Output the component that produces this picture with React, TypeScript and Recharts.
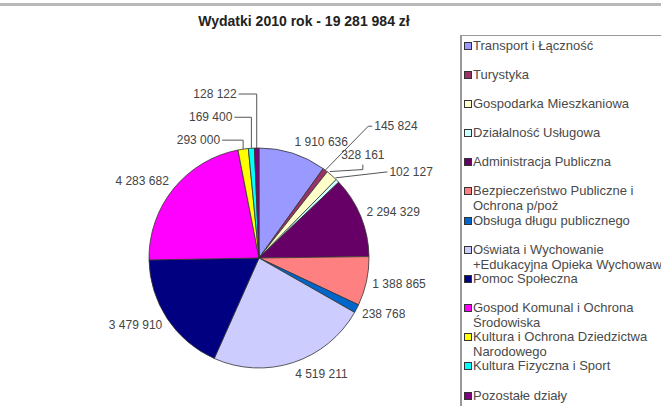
import React from 'react';
import { PieChart, Pie, Cell } from 'recharts';

const NAMES = [
  'Transport i Łączność',
  'Turystyka',
  'Gospodarka Mieszkaniowa',
  'Działalność Usługowa',
  'Administracja Publiczna',
  'Bezpieczeństwo Publiczne i\nOchrona p/poż',
  'Obsługa długu publicznego',
  'Oświata i Wychowanie\n+Edukacyjna Opieka Wychowawcza',
  'Pomoc Społeczna',
  'Gospod Komunal i Ochrona\nŚrodowiska',
  'Kultura i Ochrona Dziedzictwa\nNarodowego',
  'Kultura Fizyczna i Sport',
  'Pozostałe działy',
];

const VALUES = [
  1910636, 145824, 328161, 102127, 2294329, 1388865, 238768,
  4519211, 3479910, 4283682, 293000, 169400, 128122,
];

const COLORS = [
  '#9999FF', '#993366', '#FFFFCC', '#CCFFFF', '#660066', '#FF8080', '#0066CC',
  '#CCCCFF', '#000080', '#FF00FF', '#FFFF00', '#00FFFF', '#800080',
];

const TITLE = 'Wydatki 2010 rok - 19 281 984 zł';

const data = NAMES.map((name, i) => ({ name, value: VALUES[i], color: COLORS[i] }));

const FONT = '"Liberation Sans", Arial, sans-serif';
const RAD = Math.PI / 180;

const fmt = (v: number) => String(v).replace(/\B(?=(\d{3})+(?!\d))/g, ' ');

// leader lines for the thin slices, relative to the point on the rim
const LEADERS: Record<number, { pts: number[][]; tx: number; ty: number; anchor: 'start' | 'end' | 'middle' }> = {
  1: { pts: [[0, 0], [43, -44], [47, -44]], tx: 49, ty: -40, anchor: 'start' },
  2: { pts: [[-2, -4], [31, -6], [31, -11]], tx: 31, ty: -17, anchor: 'middle' },
  3: { pts: [[-2, -3], [50, -9]], tx: 52, ty: -5, anchor: 'start' },
  10: { pts: [[0, 0], [0, -9], [-21, -9]], tx: -23, ty: -5, anchor: 'end' },
  11: { pts: [[0, 0], [0, -31], [-17, -31]], tx: -19, ty: -27, anchor: 'end' },
  12: { pts: [[0, 0], [0, -54], [-18, -54]], tx: -20, ty: -50, anchor: 'end' },
};

const renderLabel = (props: any) => {
  const { cx, cy, midAngle, outerRadius, index, value } = props;
  const c = Math.cos(-midAngle * RAD);
  const s = Math.sin(-midAngle * RAD);
  const ex = cx + outerRadius * c;
  const ey = cy + outerRadius * s;
  const lead = LEADERS[index];
  const textStyle = { fontSize: 12, fontFamily: FONT, fill: '#444' };
  if (lead) {
    const d = lead.pts.map((p, i) => `${i ? 'L' : 'M'}${ex + p[0]},${ey + p[1]}`).join(' ');
    return (
      <g key={`lbl-${index}`}>
        <path d={d} stroke="#555" strokeWidth={1} fill="none" />
        <text x={ex + lead.tx} y={ey + lead.ty} textAnchor={lead.anchor} style={textStyle}>
          {fmt(value)}
        </text>
      </g>
    );
  }
  const r = outerRadius + 6;
  const x = cx + r * c;
  const y = cy + r * s + 4 + s * 6;
  return (
    <text key={`lbl-${index}`} x={x} y={y} textAnchor={c >= 0 ? 'start' : 'end'} style={textStyle}>
      {fmt(value)}
    </text>
  );
};

const LegendBox = () => (
  <div
    style={{
      position: 'absolute',
      left: 460,
      top: 35,
      width: 230,
      height: 390,
      borderLeft: '2px solid #999',
      borderTop: '1px solid #999',
      background: '#fff',
      fontFamily: FONT,
      fontSize: 13,
      color: '#4a4a4a',
    }}
  >
    {data.map((d, i) => {
      const center = 9 + i * 29.17;
      return (
        <div key={d.name} style={{ position: 'absolute', left: 0, top: center - 7.5, width: 230 }}>
          <span
            style={{
              position: 'absolute',
              left: 2,
              top: 4,
              width: 6,
              height: 6,
              background: d.color,
              border: '1px solid #333',
            }}
          />
          <div style={{ position: 'absolute', left: 11, top: 0, whiteSpace: 'pre', lineHeight: '15px' }}>
            {d.name}
          </div>
        </div>
      );
    })}
  </div>
);

export default function App() {
  return (
    <div style={{ position: 'fixed', left: 0, top: 0, width: 661, height: 406, overflow: 'hidden', background: '#fff' }}>
      <div style={{ position: 'absolute', left: 0, top: 3, width: 661, height: 3, background: '#b8b8b8' }} />
      <div
        style={{
          position: 'absolute',
          left: 0,
          width: 608,
          top: 13,
          textAlign: 'center',
          fontFamily: FONT,
          fontWeight: 'bold',
          fontSize: 14,
          color: '#222',
        }}
      >
        {TITLE}
      </div>
      <div style={{ position: 'absolute', left: 0, top: 0 }}>
        <PieChart width={460} height={406} margin={{ top: 0, right: 0, bottom: 0, left: 0 }}>
          <Pie
            data={data}
            dataKey="value"
            nameKey="name"
            cx={259}
            cy={258}
            outerRadius={110}
            startAngle={90}
            endAngle={-270}
            stroke="#333"
            strokeWidth={0.8}
            label={renderLabel}
            labelLine={false}
            isAnimationActive={false}
          >
            {data.map((d) => (
              <Cell key={d.name} fill={d.color} />
            ))}
          </Pie>
        </PieChart>
      </div>
      <LegendBox />
    </div>
  );
}
